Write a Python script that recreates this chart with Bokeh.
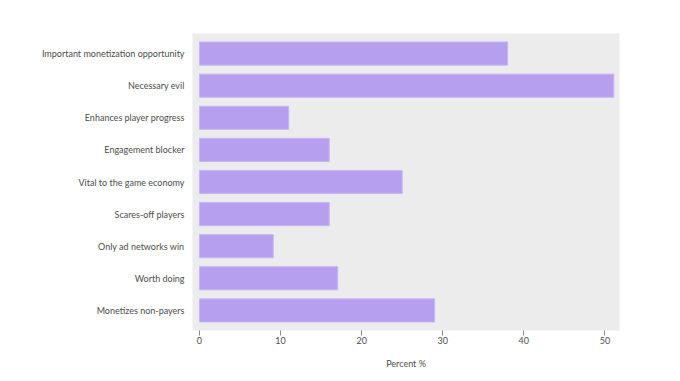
from bokeh.plotting import figure
from bokeh.models import FactorRange, Range1d, ColumnDataSource, FixedTicker, Title
from bokeh.embed import file_html
from bokeh.resources import INLINE

categories = [
    "Important monetization opportunity",
    "Necessary evil",
    "Enhances player progress",
    "Engagement blocker",
    "Vital to the game economy",
    "Scares-off players",
    "Only ad networks win",
    "Worth doing",
    "Monetizes non-payers",
]
values = [38.0, 51.1, 11.0, 16.0, 25.0, 16.0, 9.1, 17.05, 29.0]
x_ticks = [0, 10, 20, 30, 40, 50]
x_title = "Percent %"

FONT = "Lato"
TEXT = "#4d4d4d"

src = ColumnDataSource(dict(cat=categories, val=values))

p = figure(
    width=664, height=378,
    y_range=FactorRange(factors=list(reversed(categories)), range_padding=0.028),
    x_range=Range1d(-0.86, 51.8),
    output_backend="svg", toolbar_location=None,
    min_border_left=192, min_border_right=45, min_border_top=33, min_border_bottom=48,
)
p.hbar(y="cat", right="val", left=0, height=0.72, source=src,
       fill_color="#b79ff0", line_color="#c7b5f5", line_width=1)

p.background_fill_color = "#ececec"
p.border_fill_color = "white"
p.outline_line_color = None
p.grid.grid_line_color = None

p.xaxis.ticker = FixedTicker(ticks=x_ticks)
p.xaxis.axis_line_color = None
p.xaxis.major_tick_line_color = "#888888"
p.xaxis.major_tick_in = 0
p.xaxis.major_tick_out = 5
p.xaxis.minor_tick_line_color = None
p.xaxis.major_label_standoff = 1

p.yaxis.axis_line_color = None
p.yaxis.major_tick_line_color = None
p.yaxis.minor_tick_line_color = None
p.yaxis.major_label_standoff = 2

for ax in (p.xaxis, p.yaxis):
    ax.major_label_text_font = FONT
    ax.major_label_text_font_size = "9px"
    ax.major_label_text_color = TEXT

p.add_layout(Title(
    text=x_title, align="center", text_font=FONT, text_font_size="9px",
    text_font_style="normal", text_color=TEXT, standoff=19, offset=-4,
), "below")

open("out.html", "w").write(file_html(p, INLINE))
